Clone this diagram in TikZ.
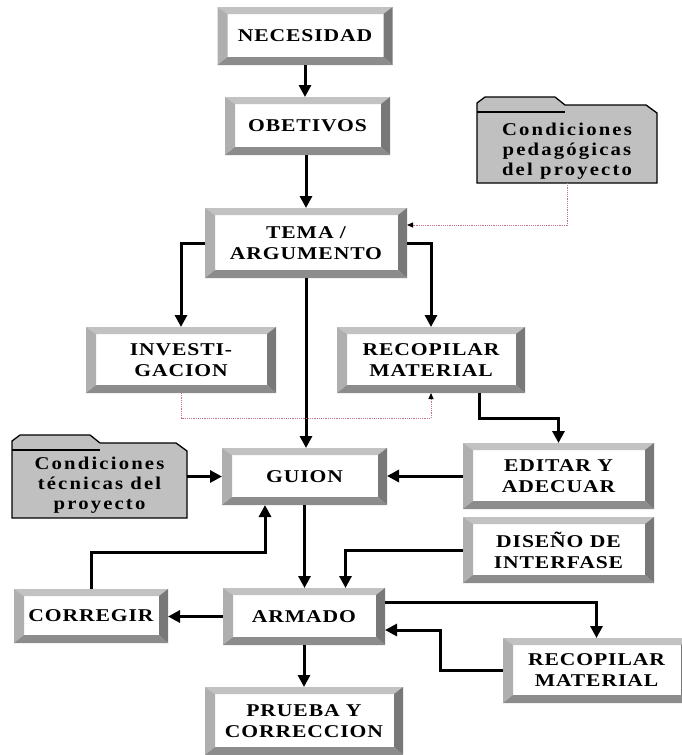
\documentclass[tikz,border=0pt]{standalone}
\usepackage{fontspec}
\setmainfont{Liberation Serif}
\newfontfamily\boxfont{Liberation Serif}[FakeStretch=1.2,LetterSpace=5]
\newfontfamily\folderfont{Liberation Serif}[FakeStretch=1.15,LetterSpace=12]
\usetikzlibrary{arrows.meta,calc}

\definecolor{bvtop}{HTML}{C2C2C2}
\definecolor{bvleft}{HTML}{AFAFAF}
\definecolor{bvright}{HTML}{787878}
\definecolor{bvbottom}{HTML}{8C8C8C}
\definecolor{foldergray}{HTML}{C0C0C0}
\definecolor{dotpink}{HTML}{C86E96}

\pgfdeclarelayer{back}
\pgfsetlayers{back,main}

\tikzset{
  % white box framed by a four-sided bevel
  bevelbox/.style 2 args={rectangle, inner sep=0pt, outer sep=0pt,
    minimum width=#1, minimum height=#2, fill=white, align=center,
    font=\boxfont\bfseries\fontsize{18}{21}\selectfont,
    path picture={
      \coordinate (pNW) at (path picture bounding box.north west);
      \coordinate (pNE) at (path picture bounding box.north east);
      \coordinate (pSW) at (path picture bounding box.south west);
      \coordinate (pSE) at (path picture bounding box.south east);
      \coordinate (iNW) at ([shift={(10pt,-7pt)}]pNW);
      \coordinate (iNE) at ([shift={(-9pt,-7pt)}]pNE);
      \coordinate (iSW) at ([shift={(10pt,8pt)}]pSW);
      \coordinate (iSE) at ([shift={(-9pt,8pt)}]pSE);
      \fill[bvtop] (pNW) -- (pNE) -- (iNE) -- (iNW) -- cycle;
      \fill[bvleft] (pNW) -- (iNW) -- (iSW) -- (pSW) -- cycle;
      \fill[bvright] (pNE) -- (pSE) -- (iSE) -- (iNE) -- cycle;
      \fill[bvbottom] (pSW) -- (iSW) -- (iSE) -- (pSE) -- cycle;
    }},
  folderbox/.style 2 args={rectangle, inner sep=0pt, outer sep=0pt,
    minimum width=#1, minimum height=#2, align=center,
    font=\folderfont\bfseries\fontsize{18}{20}\selectfont},
  folderedge/.style={draw=black, line width=1.3pt, fill=foldergray, line join=miter},
  flow/.style={line width=3pt, -{Triangle[length=12pt,width=12pt]}},
  hint/.style={line width=0.9pt, dotpink, dash pattern=on 1.2pt off 1pt,
    -{Triangle[length=6pt,width=5pt,color=black]}},
}

% folder outline with its tab, drawn behind a folder node;
% #2 lifts the outline relative to the node (in pt)
\newcommand\drawfolder[2]{%
  \begin{pgfonlayer}{back}
  \filldraw[folderedge] ([yshift=#2pt]#1.south west) -- ([yshift=9pt+#2pt]#1.north west)
    -- ([shift={(8pt,15pt+#2pt)}]#1.north west) -- ([shift={(78pt,15pt+#2pt)}]#1.north west)
    -- ([shift={(88pt,7pt+#2pt)}]#1.north west) -- ([shift={(-11pt,7pt+#2pt)}]#1.north east)
    -- ([yshift=-1pt+#2pt]#1.north east) -- ([yshift=#2pt]#1.south east) -- cycle;
  \draw[folderedge, fill=none] ([yshift=#2pt]#1.north west) -- ([shift={(88pt,#2pt)}]#1.north west);
  \end{pgfonlayer}}

\begin{document}
\begin{tikzpicture}[x=1pt, y=-1pt]
\useasboundingbox (0,0) rectangle (681,755);
\begin{pgfonlayer}{back}
  \fill[white] (0,0) rectangle (681,755);
\end{pgfonlayer}

% boxes
\node[bevelbox={175pt}{58pt}] (nec)   at (305,36)      {NECESIDAD};
\node[bevelbox={165pt}{58pt}] (obe)   at (307.5,126)   {OBETIVOS};
\node[bevelbox={202pt}{70pt}] (tema)  at (306,243)     {TEMA /\\ARGUMENTO};
\node[bevelbox={190pt}{66pt}] (inv)   at (181,360)     {INVESTI-\\GACION};
\node[bevelbox={188pt}{66pt}] (rec1)  at (431,360)     {RECOPILAR\\MATERIAL};
\node[bevelbox={165pt}{57pt}] (guion) at (304.5,476.5) {GUION};
\node[bevelbox={191pt}{66pt}] (edit)  at (558.5,476)   {EDITAR Y\\ADECUAR};
\node[bevelbox={191pt}{66pt}] (dis)   at (558.5,550)   {DISEÑO DE\\INTERFASE};
\node[bevelbox={154pt}{54pt}] (corr)  at (91,616)      {CORREGIR};
\node[bevelbox={162pt}{57pt}] (arm)   at (304,616.5)   {ARMADO};
\node[bevelbox={187pt}{65pt}] (rec2)  at (596.5,670.5) {RECOPILAR\\MATERIAL};
\node[bevelbox={198pt}{68pt}] (prue)  at (304,721)     {PRUEBA Y\\CORRECCION};

% folders
\node[folderbox={180pt}{71pt}] (ped) at (567,151.5) {Condiciones\\pedagógicas\\del proyecto};
\drawfolder{ped}{4}
\node[folderbox={175pt}{68pt}] (tec) at (99.5,485) {Condiciones\\técnicas del\\proyecto};
\drawfolder{tec}{1}

% main flow
\draw[flow] (nec.south) -- (nec.south |- obe.north);
\draw[flow] (tema.north |- obe.south) -- (tema.north);
\draw[flow] (tema.west) -| (inv.north);
\draw[flow] (tema.east) -| (rec1.north);
\draw[flow] (tema.south) -- (tema.south |- guion.north);
\draw[flow] ([xshift=48pt]rec1.south) -- ++(0,25) -| (edit.north);
\draw[flow] (edit.west) -- (edit.west -| guion.east);
\draw[flow] (tec.east |- guion.west) -- (guion.west);
\draw[flow] (guion.south) -- (guion.south |- arm.north);
\draw[flow] (dis.west) -| ([xshift=41.5pt]arm.north);
\draw[flow] (corr.north) -- ++(0,-37) -| ([xshift=-39.5pt]guion.south);
\draw[flow] (arm.west) -- (arm.west -| corr.east);
\draw[flow] ([yshift=14.5pt]arm.east) -| (rec2.north);
\draw[flow] (rec2.west) -- ++(-63,0) |- ([yshift=-13.5pt]arm.east);
\draw[flow] (arm.south) -- (arm.south |- prue.north);

% dotted influences
\draw[hint] ([yshift=4pt]ped.south) |- ([yshift=18pt]tema.east);
\draw[hint] (inv.south) -- ++(0,25) -| (rec1.south);
\end{tikzpicture}
\end{document}
